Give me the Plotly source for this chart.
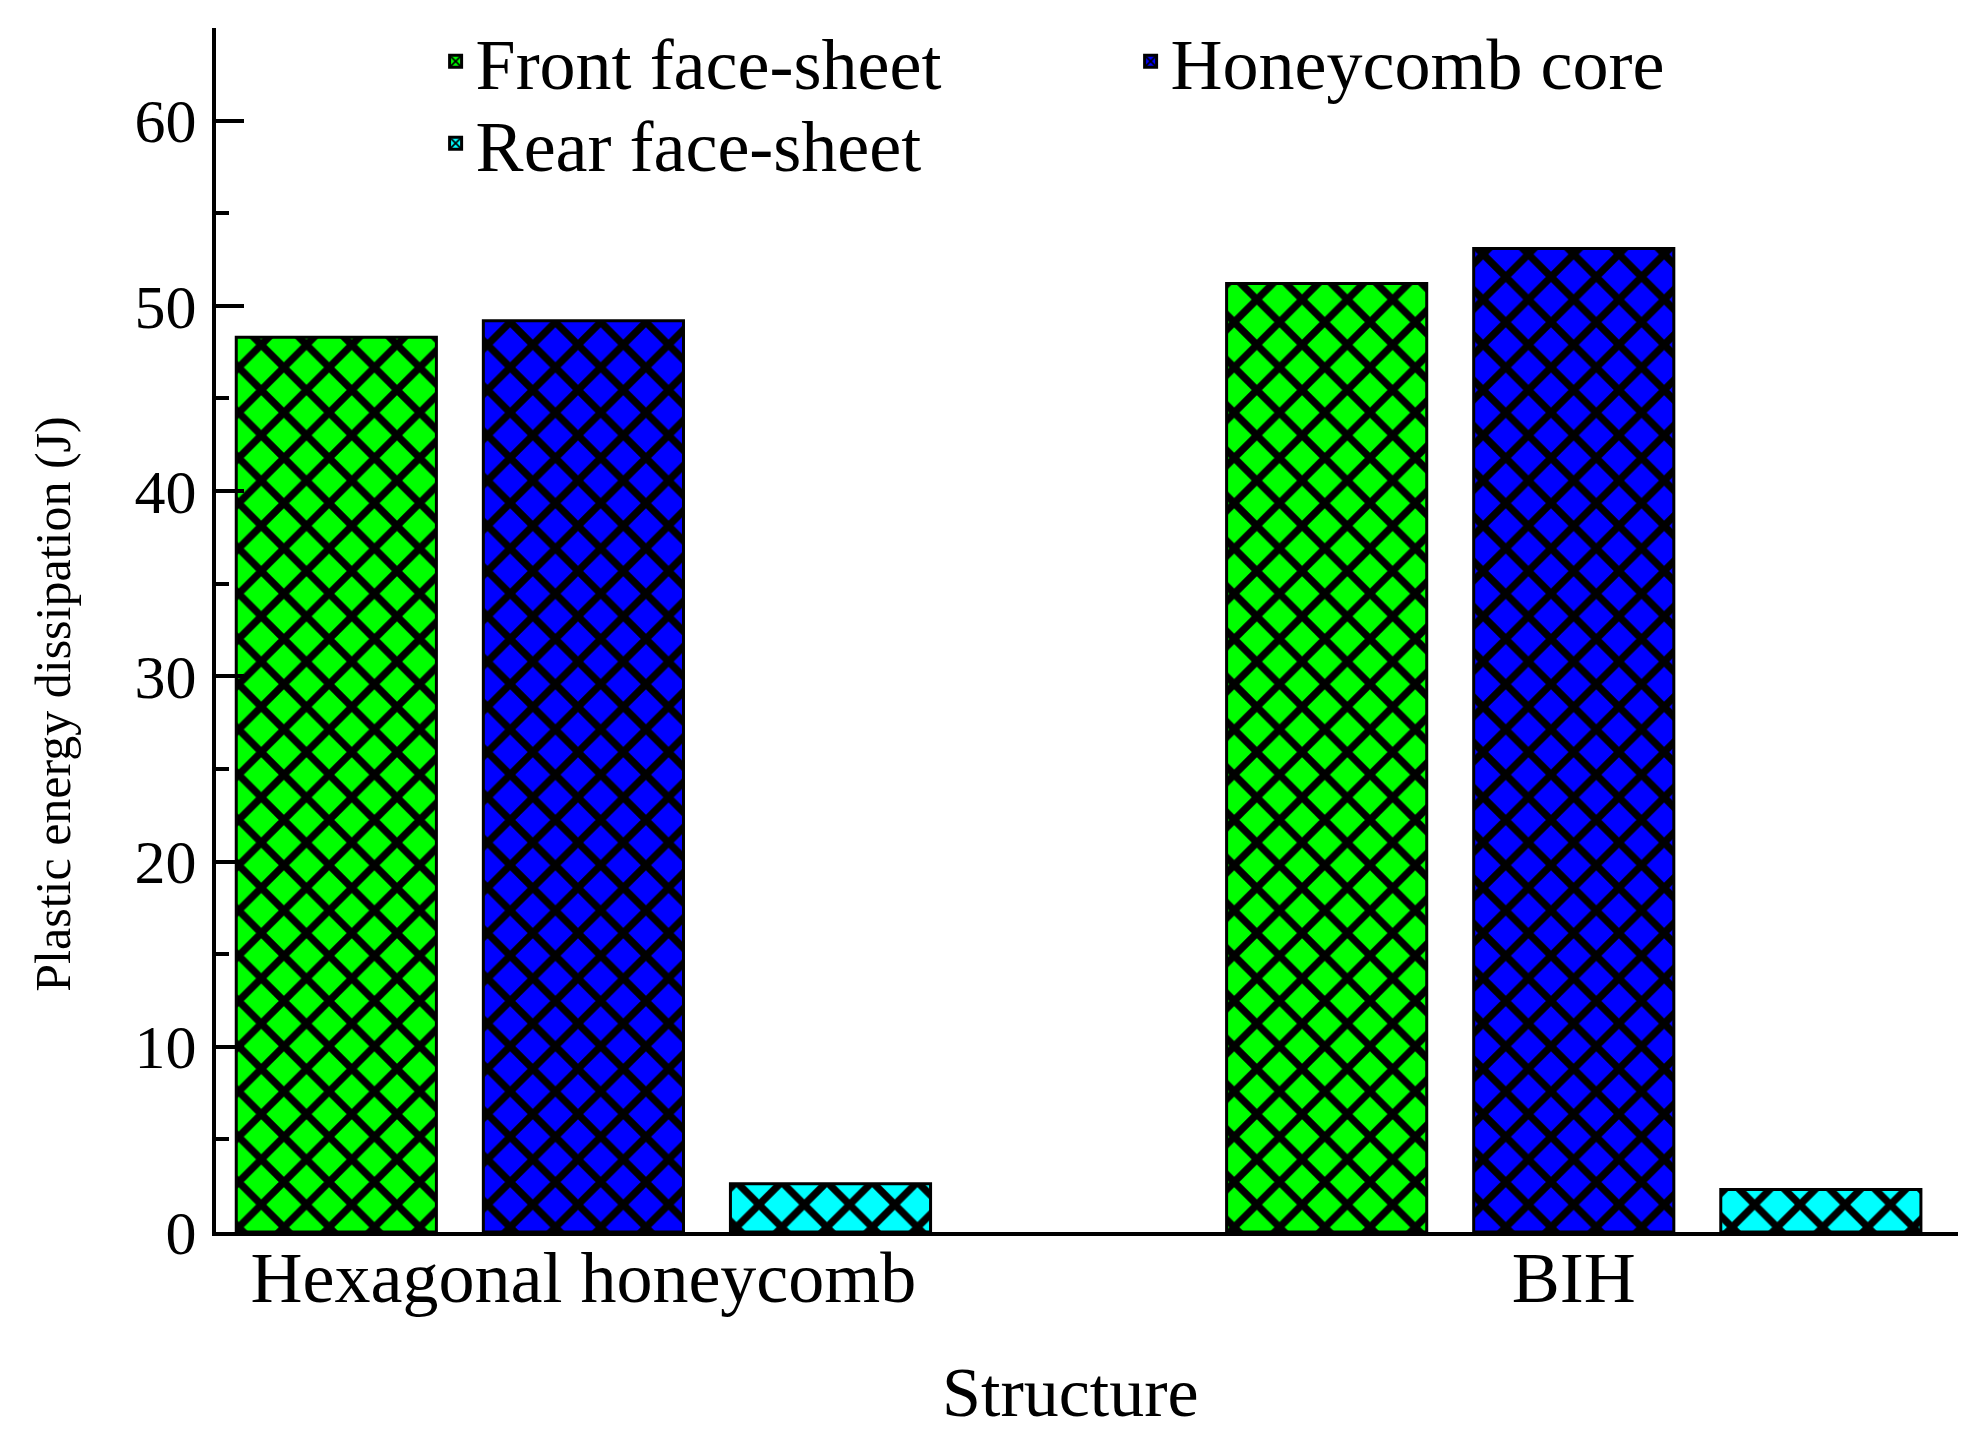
import plotly.graph_objects as go

STRUCTURES = ["Hexagonal honeycomb", "BIH"]
FRONT_FACE = [48.3, 51.2]
HONEYCOMB_CORE = [49.2, 53.1]
REAR_FACE = [2.6, 2.3]

SERIES = [
    ("Front face-sheet", FRONT_FACE, "#00ff00", "legend"),
    ("Honeycomb core", HONEYCOMB_CORE, "#0000ff", "legend"),
    ("Rear face-sheet", REAR_FACE, "#00ffff", "legend2"),
]

FONT = "Liberation Serif, Times New Roman, serif"

fig = go.Figure()
for name, vals, color, leg in SERIES:
    fig.add_trace(go.Bar(
        x=STRUCTURES,
        y=vals,
        name=name,
        legend=leg,
        marker=dict(
            color=color,
            line=dict(color="black", width=3),
            pattern=dict(shape="x", fgcolor="black", fgopacity=1, bgcolor=color,
                         size=32, solidity=0.4, fillmode="overlay"),
        ),
    ))

legend_style = dict(
    orientation="h",
    xref="container", yref="container",
    x=0.2175, xanchor="left", yanchor="top",
    bgcolor="rgba(0,0,0,0)",
    font=dict(family=FONT, size=72),
    entrywidth=650, entrywidthmode="pixels",
    itemwidth=30,
)

fig.update_layout(
    width=1966, height=1437,
    barmode="group",
    bargap=0.2515,
    bargroupgap=0.19,
    plot_bgcolor="white",
    paper_bgcolor="white",
    font=dict(family=FONT, size=66, color="black"),
    margin=dict(l=208, r=16, t=20, b=213, autoexpand=False),
    legend=dict(legend_style, y=1.0),
    legend2=dict(legend_style, y=0.943),
    annotations=[
        dict(
            text="Plastic energy dissipation (J)",
            xref="paper", yref="paper",
            x=-0.111, y=0.4385,
            textangle=-90, showarrow=False,
            font=dict(family=FONT, size=50),
        ),
        dict(
            text="Structure",
            xref="paper", yref="paper",
            x=0.4908, y=-0.1329, yanchor="middle",
            showarrow=False,
            font=dict(family=FONT, size=70),
        ),
    ],
)

fig.update_xaxes(
    type="category",
    range=[-0.371, 1.388],
    showline=True, linecolor="black", linewidth=4,
    ticks="", showgrid=False, zeroline=False,
    tickfont=dict(size=72),
    ticklabelstandoff=-20,
    automargin=False,
)
fig.update_yaxes(
    range=[0, 65],
    dtick=10, tick0=0,
    ticks="inside", ticklen=28, tickwidth=4, tickcolor="black",
    minor=dict(dtick=5, ticks="inside", ticklen=13, tickwidth=4, tickcolor="black"),
    showline=True, linecolor="black", linewidth=4,
    showgrid=False, zeroline=False,
    tickfont=dict(size=62),
    ticklabelstandoff=3,
    automargin=False,
)

fig.write_html("out.html")
